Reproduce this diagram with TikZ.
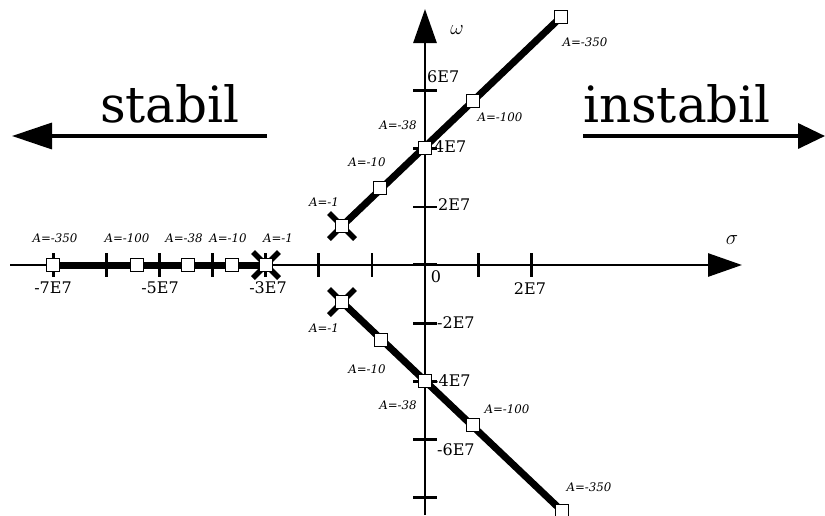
\documentclass[tikz,border=0pt]{standalone}
\usepackage{fontspec}
\setmainfont{DejaVu Serif}
\usetikzlibrary{arrows.meta}
\tikzset{
  sq/.style={draw,fill=white,line width=0.8pt,minimum size=13pt,inner sep=0pt},
  alab/.style={font=\fontsize{11.8}{13}\selectfont\itshape,inner sep=1pt},
  tlab/.style={font=\fontsize{16}{19}\selectfont,inner sep=1pt},
  big/.style={font=\fontsize{50}{56}\selectfont,anchor=base,inner sep=0pt},
  locus/.style={line width=7pt},
  crs/.style={line width=5.5pt},
  axis/.style={line width=2.8pt,-{Triangle[length=34pt,width=23pt]}},
}
\begin{document}
\begin{tikzpicture}[x=1pt,y=-1pt]
  \useasboundingbox (0,0) rectangle (825,515);

  % axes
  \coordinate (xl) at (10,265);
  \coordinate (xr) at (742,265);
  \coordinate (yb) at (425,515);
  \coordinate (yt) at (425,9);
  \draw[axis] (xl) -- (xr);
  \draw[axis] (yb) -- (yt);
  \node[font=\fontsize{22}{24}\selectfont] (sig) at (732,240) {$\sigma$};
  \node[font=\fontsize{22}{24}\selectfont] (om) at (457,30) {$\omega$};

  % ticks
  \foreach \x in {-7,...,-1,1,2}
    \draw[line width=2.8pt] ({425+53.1*\x},253) -- ({425+53.1*\x},277);
  \foreach \y in {-8,-6,-4,-2,2,4,6}
    \draw[line width=2.8pt] (413,{265-29.05*\y}) -- (437,{265-29.05*\y});
  \draw[line width=1.2pt] (413,264) -- (437,264);

  \node[tlab] (t7) at (53,288) {-7E7};
  \node[tlab] (t5) at (160,288) {-5E7};
  \node[tlab] (t3) at (268,288) {-3E7};
  \node[tlab] (t0) at (436,277) {0};
  \node[tlab] (t2) at (530,289) {2E7};
  \node[tlab,anchor=west] (w6) at (426,77) {6E7};
  \node[tlab,anchor=west] (w4) at (433,147) {4E7};
  \node[tlab,anchor=west] (w2) at (437,205) {2E7};
  \node[tlab,anchor=west] (m2) at (436,323) {-2E7};
  \node[tlab,anchor=west] (m4) at (432,381) {-4E7};
  \node[tlab,anchor=west] (m6) at (436,450) {-6E7};

  % stabil / instabil
  \coordinate (sa) at (267,136);
  \coordinate (sb) at (12,136);
  \coordinate (ia) at (583,136);
  \coordinate (ib) at (825,136);
  \draw[line width=3.5pt,-{Triangle[length=40pt,width=26pt]}] (sa) -- (sb);
  \draw[line width=3.5pt,-{Triangle[length=27pt,width=25pt]}] (ia) -- (ib);
  \node[big] (stab) at (170,122) {stabil};
  \node[big] (instab) at (677,122) {instabil};

  % root locus
  \coordinate (r350) at (53,265);
  \coordinate (r100) at (137,265);
  \coordinate (r38) at (188,265);
  \coordinate (r10) at (232,265);
  \coordinate (r1) at (266,265);
  \coordinate (u1) at (342,226);
  \coordinate (u10) at (380,188);
  \coordinate (u38) at (425,148);
  \coordinate (u100) at (473,101);
  \coordinate (u350) at (561,17);
  \coordinate (l1) at (342,302);
  \coordinate (l10) at (381,340);
  \coordinate (l38) at (425,381);
  \coordinate (l100) at (473,425);
  \coordinate (l350) at (562,511);

  \draw[locus] (r350) -- (r1);
  \draw[locus] (u1) -- (u350);
  \draw[locus] (l1) -- (l350);

  \foreach \c in {r1,u1,l1} {
    \draw[crs] (\c) ++(-13,-13) -- ++(26,26);
    \draw[crs] (\c) ++(-13,13) -- ++(26,-26);
  }
  \foreach \c in {r350,r100,r38,r10,r1,u1,u10,u38,u100,u350,l1,l10,l38,l100,l350}
    \node[sq] (\c-s) at (\c) {};

  % gain labels
  \node[alab] (a1) at (55,238) {A=-350};
  \node[alab] (a2) at (127,238) {A=-100};
  \node[alab] (a3) at (184,238) {A=-38};
  \node[alab] (a4) at (228,238) {A=-10};
  \node[alab] (a5) at (278,238) {A=-1};
  \node[alab] (b1) at (324,202) {A=-1};
  \node[alab] (b2) at (367,162) {A=-10};
  \node[alab] (b3) at (398,125) {A=-38};
  \node[alab] (b4) at (500,117) {A=-100};
  \node[alab] (b5) at (585,42) {A=-350};
  \node[alab] (c1) at (324,328) {A=-1};
  \node[alab] (c2) at (367,369) {A=-10};
  \node[alab] (c3) at (398,405) {A=-38};
  \node[alab] (c4) at (507,409) {A=-100};
  \node[alab] (c5) at (589,487) {A=-350};
\end{tikzpicture}
\end{document}
